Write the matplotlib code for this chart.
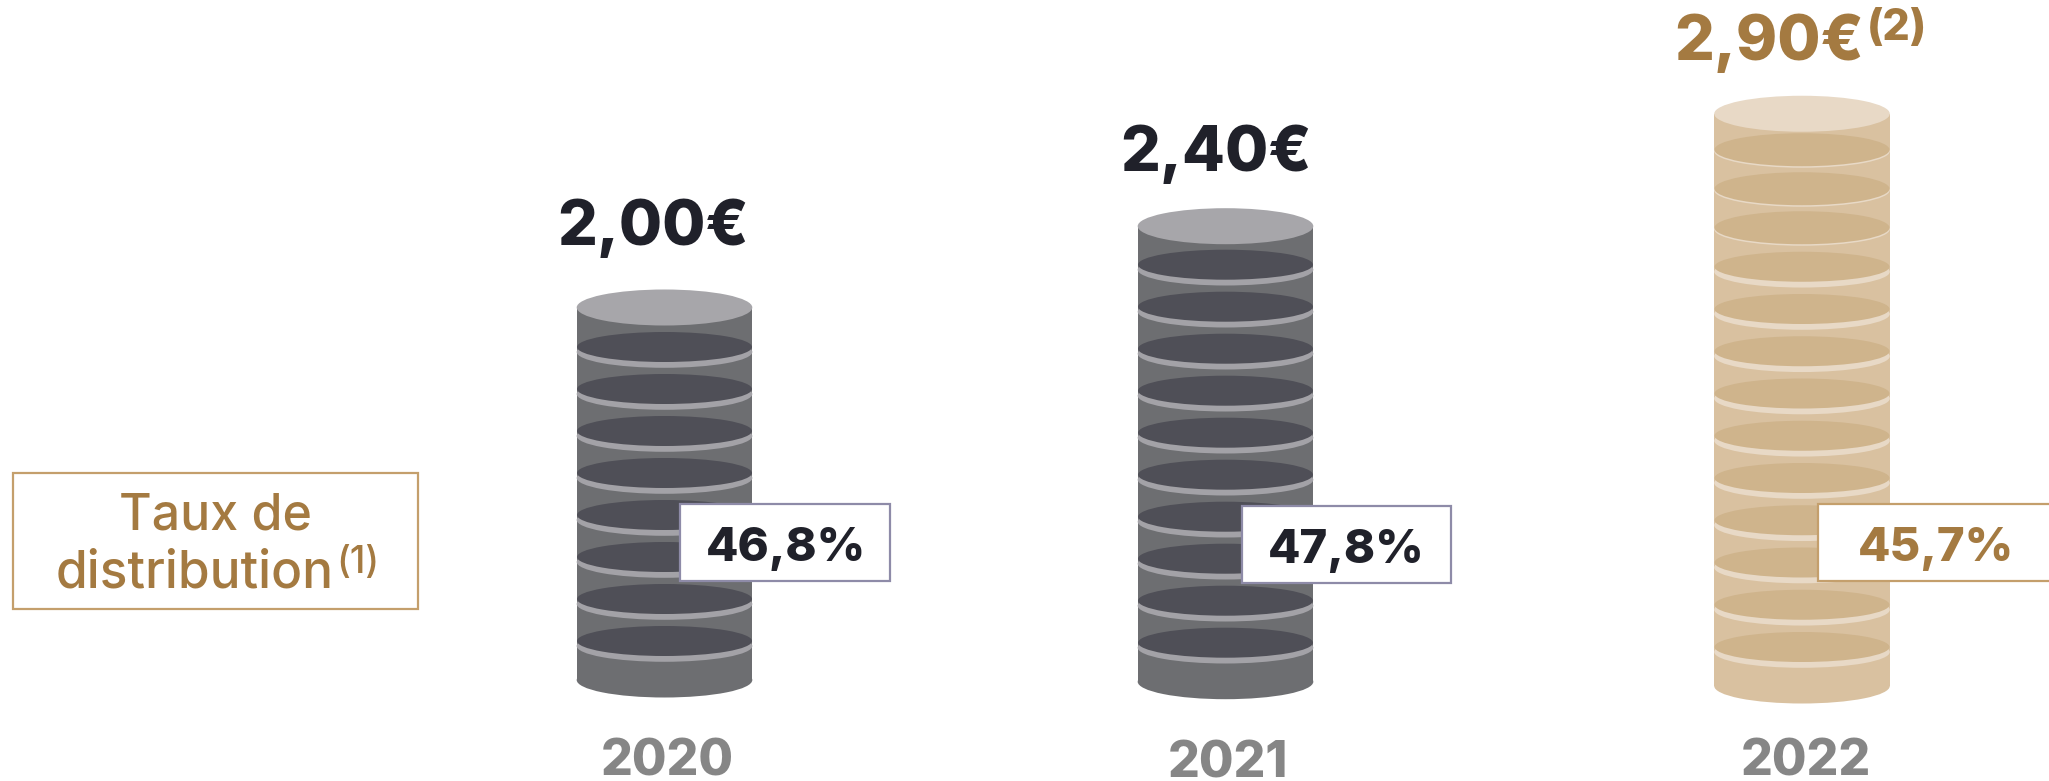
from __future__ import annotations

import matplotlib

matplotlib.use("Agg")
import matplotlib.pyplot as plt
from matplotlib.patches import Ellipse, Rectangle

plt.rcParams["font.family"] = ["Inter", "DejaVu Sans"]

YEARS = ["2020", "2021", "2022"]
DIVIDENDS = [2.00, 2.40, 2.90]
PAYOUT_RATES = [46.8, 47.8, 45.7]
COIN_COUNTS = [8, 10, 13]
DIVIDEND_NOTES = ["", "", "(2)"]

GREY = {"body": "#6d6e71", "top": "#a7a6aa", "disc": "#4f4f57", "ring": "#a3a2a7",
        "text": "#20212a", "edge": "#8e8ba8"}
GOLD = {"body": "#d9c1a0", "top": "#e8d9c6", "disc": "#cfb48c", "ring": "#e8d9c6",
        "text": "#a47a41", "edge": "#c49f6c"}
YEAR_COLOR = "#868686"

# layout, in pixels of the 2049x781 canvas
CENTERS = [664.5, 1225.5, 1802]
BASES = [680, 681.7, 686]
THEMES = [GREY, GREY, GOLD]
VALUE_BASELINES = [245, 170.7, 60]
VALUE_CENTERS = [652.5, 1216, 1769.5]
YEAR_CENTERS = [667, 1228, 1805.5]
YEAR_BASELINES = [776, 778, 776]
BOX_LEFT = [680, 1242, 1818.3]
BOX_RIGHT = [890, 1451, 2060]
BOX_TOP = [504, 505.7, 504]
BOX_BOTTOM = [581, 583, 581]
RATE_CENTERS = [786, 1346.5, 1936.5]
HALF_WIDTH = 87.8
COIN_STEPS = [42.0, 42.0, 42.25]
SQUEEZED_STEP = 39.0
SQUEEZED_COINS = [0, 0, 3]
FIRST_GAP = [39.5, 38.5, 36]


def draw_stack(ax, cx, base, n_coins, step, squeezed, first_gap, theme):
    levels = [base - 39 - step * i for i in range(n_coins - squeezed)]
    for _ in range(squeezed):
        levels.append(levels[-1] - SQUEEZED_STEP)
    top = levels[-1] - first_gap

    ax.add_patch(Rectangle((cx - HALF_WIDTH, top), 2 * HALF_WIDTH, base - top,
                           fc=theme["body"], ec="none"))
    ax.add_patch(Ellipse((cx, base), 2 * HALF_WIDTH, 35, fc=theme["body"], ec="none"))
    for i, level in enumerate(levels):
        thin = i >= n_coins - squeezed
        drop = 1.5 if thin else 5.0
        half_h = 16.5 if thin else 15.0
        ring_h = 16.5 if thin else 15.8
        ax.add_patch(Ellipse((cx, level + drop), 2 * HALF_WIDTH, 2 * ring_h,
                             fc=theme["ring"], ec="none"))
        ax.add_patch(Ellipse((cx, level), 2 * HALF_WIDTH - 0.6, 2 * half_h,
                             fc=theme["disc"], ec="none"))
    ax.add_patch(Ellipse((cx, top), 2 * HALF_WIDTH, 36, fc=theme["top"], ec="none"))


def main() -> int:
    fig = plt.figure(figsize=(20.49, 7.81), dpi=100)
    ax = fig.add_axes([0, 0, 1, 1])
    ax.set_xlim(0, 2049)
    ax.set_ylim(781, 0)
    ax.axis("off")

    for i, year in enumerate(YEARS):
        theme = THEMES[i]
        draw_stack(ax, CENTERS[i], BASES[i], COIN_COUNTS[i], COIN_STEPS[i],
                   SQUEEZED_COINS[i], FIRST_GAP[i], theme)

        ax.add_patch(Rectangle((BOX_LEFT[i], BOX_TOP[i]), BOX_RIGHT[i] - BOX_LEFT[i],
                               BOX_BOTTOM[i] - BOX_TOP[i], fc="white",
                               ec=theme["edge"], lw=1.6))
        rate = f"{PAYOUT_RATES[i]:.1f}%".replace(".", ",")
        ax.text(RATE_CENTERS[i], BOX_BOTTOM[i] - 20, rate, ha="center", va="baseline",
                fontsize=34, fontweight=800, color=theme["text"])

        value = f"{DIVIDENDS[i]:.2f}€".replace(".", ",")
        ax.text(VALUE_CENTERS[i], VALUE_BASELINES[i], value, ha="center", va="baseline",
                fontsize=45, fontweight=800, color=theme["text"])
        if DIVIDEND_NOTES[i]:
            ax.text(1867, 40, DIVIDEND_NOTES[i], ha="left", va="baseline",
                    fontsize=31, fontweight=800, color=theme["text"])

        ax.text(YEAR_CENTERS[i], YEAR_BASELINES[i], year, ha="center", va="baseline",
                fontsize=36, fontweight=800, color=YEAR_COLOR)

    ax.add_patch(Rectangle((12.7, 473), 405, 136, fc="white", ec=GOLD["edge"], lw=1.6))
    ax.text(215, 529, "Taux de", ha="center", va="baseline", fontsize=36,
            fontweight=500, color=GOLD["text"])
    ax.text(195, 587, "distribution", ha="center", va="baseline", fontsize=37,
            fontweight=500, color=GOLD["text"])
    ax.text(336, 573, "(1)", ha="left", va="baseline", fontsize=27, fontweight=500,
            color=GOLD["text"])

    fig.savefig("out.png", dpi=100, facecolor="white")
    plt.close(fig)
    return 0


if __name__ == "__main__":
    raise SystemExit(main())
